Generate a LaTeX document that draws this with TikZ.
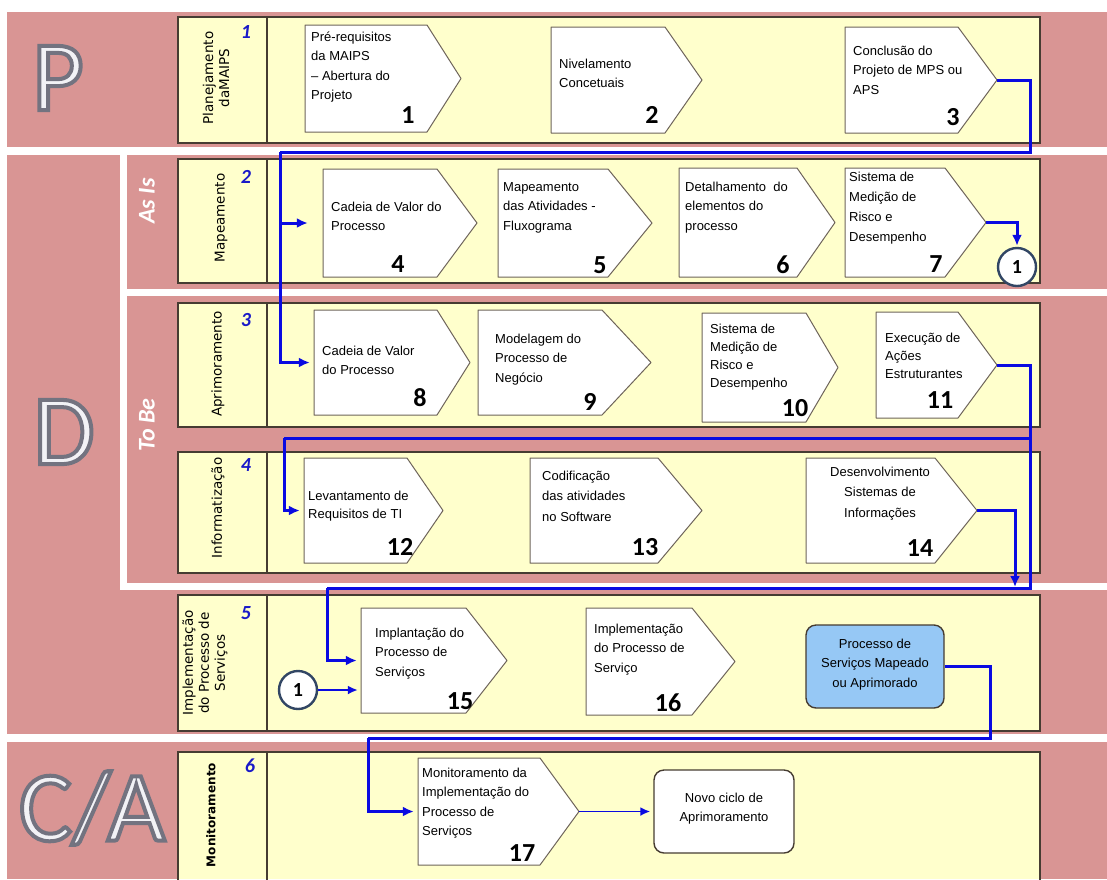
\documentclass[tikz,border=0pt]{standalone}
\usepackage{fontspec}
\setmainfont{Liberation Sans}
\newfontfamily\calfont{Carlito}
\newfontfamily\dvfont{DejaVu Sans}
\newfontfamily\bigfont[FakeBold=4]{Carlito}
\usetikzlibrary{arrows.meta}
\definecolor{pinkbg}{RGB}{217,149,148}
\definecolor{laneyel}{RGB}{255,255,204}
\definecolor{laneline}{RGB}{70,60,50}
\definecolor{boxline}{RGB}{110,100,90}
\definecolor{flowblue}{RGB}{10,10,225}
\definecolor{numblue}{RGB}{25,25,200}
\definecolor{procblue}{RGB}{150,200,245}
\definecolor{circline}{RGB}{50,70,100}
\definecolor{bigfill}{RGB}{242,242,246}
\newcommand{\tops}{\rule{0pt}{12pt}}
\newcommand{\bigtxt}[1]{\color{bigfill}\special{pdf:code 0.45 0.45 0.50 RG}#1}
\newcommand{\chevbox}[6]{%
  \draw[chevron] (#2,#3) -- (#4,#3) -- (#5,{(#3+#6)/2}) -- (#4,#6) -- (#2,#6) -- cycle;
  \node[inner sep=0pt, minimum width={#5-#2}, minimum height={#6-#3}] (#1) at ({(#2+#5)/2},{(#3+#6)/2}) {};
}
\tikzset{
  lane/.style={draw=laneline, line width=1.5pt, fill=laneyel},
  lanesep/.style={draw=laneline, line width=1.2pt},
  chevron/.style={draw=boxline, line width=1pt, fill=white, line join=round},
  btext/.style={anchor=north west, yshift=12pt, align=left, inner sep=0pt, font=\fontsize{13}{19.5}\selectfont},
  ctext/.style={anchor=north, yshift=12pt, align=center, inner sep=0pt, font=\fontsize{13}{19.5}\selectfont},
  bnum/.style={inner sep=0pt, font=\calfont\bfseries\fontsize{26}{26}\selectfont},
  lanelabel/.style={rotate=90, align=center, inner sep=0pt, font=\dvfont\fontsize{13.5}{16}\selectfont},
  lanenum/.style={inner sep=0pt, text=numblue, font=\calfont\bfseries\itshape\fontsize{20}{20}\selectfont},
  flowline/.style={draw=flowblue, line width=3pt},
  flow/.style={flowline, -{Latex[length=11pt,width=10pt]}, shorten >=4pt},
  thinflow/.style={draw=flowblue, line width=1.9pt, -{Latex[length=10pt,width=9pt]}, shorten >=3pt},
  bigletter/.style={inner sep=0pt, font=\bigfont\fontsize{100}{100}\selectfont},
  phase/.style={rotate=90, inner sep=0pt, text=white, font=\calfont\bfseries\itshape\fontsize{24}{24}\selectfont},
  onecirc/.style={circle, draw=circline, line width=2.4pt, fill=white, minimum size=38pt, inner sep=0pt, font=\calfont\bfseries\fontsize{20}{20}\selectfont},
  roundbox/.style={rounded corners=10pt, draw=laneline, line width=1.4pt, inner sep=0pt},
}
\begin{document}
\begin{tikzpicture}[x=1pt,y=-1pt]
\useasboundingbox (0,0) rectangle (1107,879);
\fill[white] (0,0) rectangle (1107,879);
% pink bands
\fill[pinkbg] (7,12) rectangle (1107,147);
\fill[pinkbg] (7,155) rectangle (1107,734);
\fill[pinkbg] (7,742) rectangle (1107,879);
% white separators inside D
\fill[white] (120,155) rectangle (127,590);
\fill[white] (120,289) rectangle (1107,296);
\fill[white] (120,583) rectangle (1107,590);
% big letters and phases
\node[bigletter] (bigP) at (58,78) {\bigtxt{P}};
\node[bigletter] (bigD) at (64,432) {\bigtxt{D}};
\node[bigletter] (bigCA) at (92,808) {\bigtxt{C/A}};
\node[phase] (asis) at (147,201) {As Is};
\node[phase] (tobe) at (147,425) {To Be};
% lanes
\draw[lane] (178,17) rectangle (1040,143);
\draw[lanesep] (267,17) -- (267,143);
\draw[lane] (178,159) rectangle (1040,283);
\draw[lanesep] (267,159) -- (267,283);
\draw[lane] (178,303) rectangle (1040,427);
\draw[lanesep] (267,303) -- (267,427);
\draw[lane] (178,452) rectangle (1040,573);
\draw[lanesep] (267,452) -- (267,573);
\draw[lane] (178,595) rectangle (1040,731);
\draw[lanesep] (267,595) -- (267,731);
\fill[laneyel] (178,752) rectangle (1040,879);
\draw[laneline, line width=1.5pt] (178,880) -- (178,752) -- (1040,752) -- (1040,880);
\draw[lanesep] (267,752) -- (267,880);
% lane labels
\node[lanelabel] (l1) at (216,78) {Planejamento\\daMAIPS};
\node[lanenum] (ln1) at (246,32) {1};
\node[lanelabel] (l2) at (221,218) {Mapeamento};
\node[lanenum] (ln2) at (246,177) {2};
\node[lanelabel] (l3) at (218,364) {Aprimoramento};
\node[lanenum] (ln3) at (246,320) {3};
\node[lanelabel] (l4) at (218,508) {Informatização};
\node[lanenum] (ln4) at (246,465) {4};
\node[lanelabel, font=\dvfont\fontsize{13.5}{16}\selectfont] (l5) at (205,663) {Implementação\\do Processo de\\Serviços};
\node[lanenum] (ln5) at (246,613) {5};
\node[lanelabel, font=\dvfont\bfseries\fontsize{12}{15}\selectfont] (l6) at (211,815) {Monitoramento};
\node[lanenum] (ln6) at (250,766) {6};
% row 1
\chevbox{b1}{305}{25}{427}{461}{132}
\node[btext] (t1) at (311,41) {\tops Pré-requisitos\\da MAIPS\\– Abertura do\\Projeto};
\node[bnum] (n1) at (408,115) {1};
\chevbox{b2}{551}{27}{665}{702}{133}
\node[btext] (t2) at (559,68) {\tops Nivelamento\\Concetuais};
\node[bnum] (n2) at (652,115) {2};
\chevbox{b3}{845}{27}{958}{997}{133}
\node[btext] (t3) at (853,55) {\tops Conclusão do\\Projeto de MPS ou\\APS};
\node[bnum] (n3) at (953,117) {3};
% row 2
\chevbox{b4}{323}{169}{437}{477}{277}
\node[btext] (t4) at (331,211) {\tops Cadeia de Valor do\\Processo};
\node[bnum] (n4) at (398,264) {4};
\chevbox{b5}{498}{169}{608}{652}{277}
\node[btext] (t5) at (503,191) {\tops Mapeamento\\das Atividades -\\Fluxograma};
\node[bnum] (n5) at (600,265) {5};
\chevbox{b6}{679}{168}{797}{835}{277}
\node[btext] (t6) at (685,191) {\tops Detalhamento\ \ do\\elementos do\\processo};
\node[bnum] (n6) at (783,265) {6};
\chevbox{b7}{845}{168}{945}{986}{277}
\node[btext, font=\fontsize{13}{20}\selectfont] (t7) at (849,181) {\tops Sistema de\\Medição de\\Risco e\\Desempenho};
\node[bnum] (n7) at (936,264) {7};
\node[onecirc] (c1a) at (1017,267) {1};
% row 3
\chevbox{b8}{314}{310}{437}{470}{415}
\node[btext] (t8) at (322,355) {\tops Cadeia de Valor\\do Processo};
\node[bnum] (n8) at (420,398) {8};
\chevbox{b9}{478}{310}{602}{651}{415}
\node[btext] (t9) at (495,343) {\tops Modelagem do\\Processo de\\Negócio};
\node[bnum] (n9) at (590,402) {9};
\chevbox{b10}{702}{313}{806}{838}{422}
\node[btext, font=\fontsize{13}{18}\selectfont] (t10) at (710,333) {\tops Sistema de\\Medição de\\Risco e\\Desempenho};
\node[bnum] (n10) at (795,408) {10};
\chevbox{b11}{876}{312}{958}{997}{418}
\node[btext, font=\fontsize{13}{18}\selectfont] (t11) at (885,342) {\tops Execução de\\Ações\\Estruturantes};
\node[bnum] (n11) at (940,400) {11};
% row 4
\chevbox{b12}{304}{458}{407}{443}{563}
\node[btext, font=\fontsize{13}{18}\selectfont] (t12) at (308,500) {\tops Levantamento de\\Requisitos de TI};
\node[bnum] (n12) at (400,547) {12};
\chevbox{b13}{530}{458}{658}{702}{563}
\node[btext, font=\fontsize{13}{20.5}\selectfont] (t13) at (542,480) {\tops Codificação\\das atividades\\no Software};
\node[bnum] (n13) at (645,547) {13};
\chevbox{b14}{806}{458}{935}{977}{563}
\node[ctext, font=\fontsize{13}{20.5}\selectfont] (t14) at (880,476) {\tops Desenvolvimento\\Sistemas de\\Informações};
\node[bnum] (n14) at (920,548) {14};
% row 5
\chevbox{b15}{361}{608}{466}{507}{713}
\node[btext] (t15) at (375,637) {\tops Implantação do\\Processo de\\Serviços};
\node[bnum] (n15) at (460,701) {15};
\chevbox{b16}{586}{608}{692}{735}{715}
\node[btext] (t16) at (594,633) {\tops Implementação\\do Processo de\\Serviço};
\node[bnum] (n16) at (668,703) {16};
\node[roundbox, fill=procblue, minimum width=138pt, minimum height=83pt] (proc) at (875,666.5) {};
\node[ctext] (tproc) at (875,648) {\tops Processo de\\Serviços Mapeado\\ou Aprimorado};
\node[onecirc] (c1b) at (298,690) {1};
% row 6
\chevbox{b17}{418}{758}{540}{579}{865}
\node[btext] (t17) at (422,777) {\tops Monitoramento da\\Implementação do\\Processo de\\Serviços};
\node[bnum] (n17) at (522,853) {17};
\node[roundbox, fill=white, minimum width=140pt, minimum height=83pt] (novo) at (724,811.5) {};
\node[ctext] (tnovo) at (724,802) {\tops Novo ciclo de\\Aprimoramento};
% connectors
\coordinate (r1) at (1030,152);
\coordinate (d1) at (280,152);
\draw[flowline] (b3.east) -| (r1) -- (d1);
\draw[flow] (d1) |- (b8.west);
\draw[flow, shorten >=15pt] (d1 |- b4.west) -- (b4.west);
\coordinate (r2) at (1030,588);
\coordinate (d2) at (327,588);
\coordinate (r3) at (1030,438);
\coordinate (d3) at (284,438);
\draw[flowline] (b11.east) -| (r2) -- (d2);
\draw[flow] (d2) |- (b15.west);
\draw[flowline] (r3) -- (d3);
\draw[flow] (d3) |- (b12.west);
\coordinate (m3) at (1015,588);
\draw[flow, shorten >=1pt] (b14.east) -| (m3);
\draw[flow, shorten >=1pt] (b7.east) -| (c1a.north);
\draw[thinflow] (c1b.east) -- (c1b -| b15.west);
\coordinate (r6) at (990,738);
\coordinate (d6) at (368,738);
\draw[flowline] (proc.east) -| (r6) -- (d6);
\draw[flow] (d6) |- (b17.west);
\draw[thinflow] (b17.east) -- (novo.west);
\end{tikzpicture}
\end{document}
